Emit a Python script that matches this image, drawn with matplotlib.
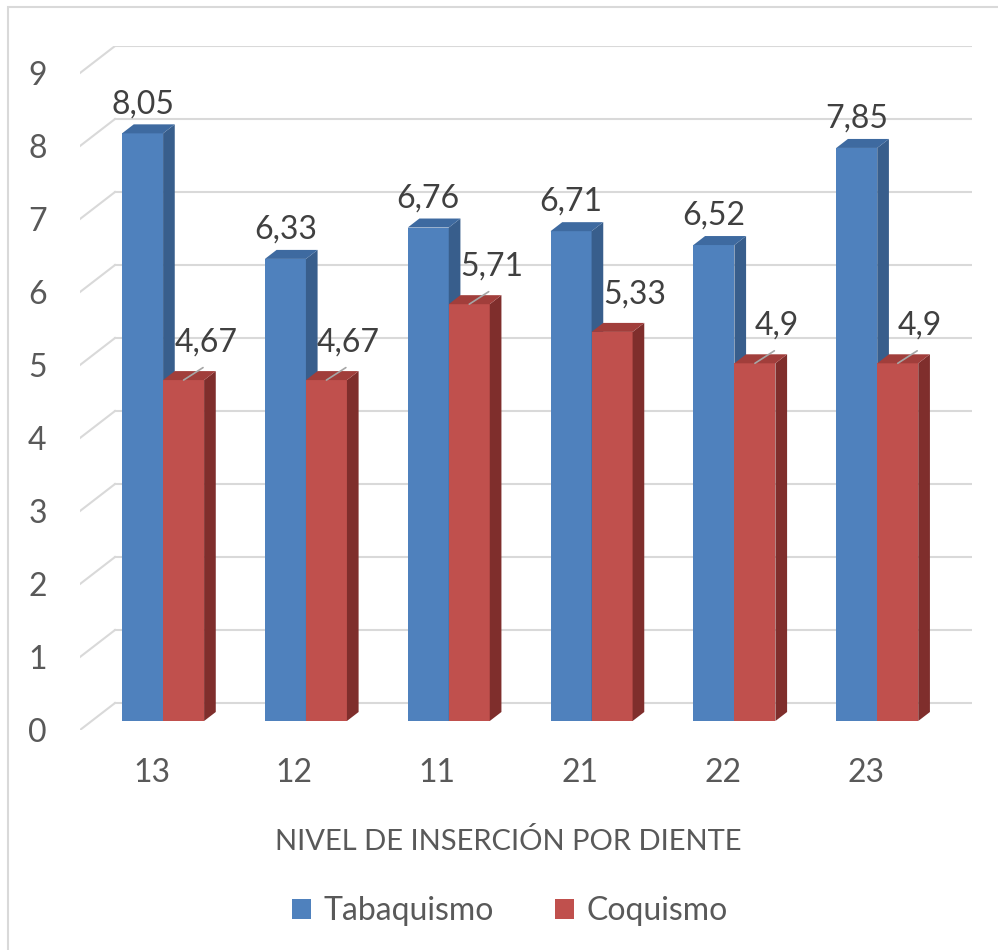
import matplotlib.pyplot as plt
from matplotlib.patches import Polygon, Rectangle, Patch

plt.rcParams['font.family'] = ['Lato', 'DejaVu Sans']

dientes = ['13', '12', '11', '21', '22', '23']
tabaquismo = [8.05, 6.33, 6.76, 6.71, 6.52, 7.85]
coquismo = [4.67, 4.67, 5.71, 5.33, 4.9, 4.9]
labels_tab = ['8,05', '6,33', '6,76', '6,71', '6,52', '7,85']
labels_coq = ['4,67', '4,67', '5,71', '5,33', '4,9', '4,9']
leader_coq = [True, True, True, False, True, True]
y_ticks = list(range(10))

W, H = 998, 950
# depth of the 3d box in data units
DX = 35 / 142.8
DY = 27 / 73.0
BAR_W = 41 / 142.8

BLUE = ('#4F81BD', '#385E8C', '#3E6AA0')
RED = ('#C0504D', '#7F2E2C', '#A13E3B')
GRID = '#D9D9D9'
TXT = '#595959'


def draw_bar(ax, x0, v, colors):
    """front face, right side and top of a 3d column"""
    face, side, top = colors
    dx, dy = DX / 3, DY / 3
    x1 = x0 + BAR_W
    y0, y1 = dy, v + dy
    ax.add_patch(Polygon([(x0, y0), (x1, y0), (x1, y1), (x0, y1)],
                         closed=True, facecolor=face, edgecolor='none'))
    ax.add_patch(Polygon([(x1, y0), (x1 + dx, y0 + dy), (x1 + dx, y1 + dy), (x1, y1)],
                         closed=True, facecolor=side, edgecolor='none'))
    ax.add_patch(Polygon([(x0, y1), (x1, y1), (x1 + dx, y1 + dy), (x0 + dx, y1 + dy)],
                         closed=True, facecolor=top, edgecolor='none'))


fig = plt.figure(figsize=(W / 100, H / 100), dpi=100)
ax = fig.add_axes([80 / W, (H - 730) / H, (972 - 80) / W, (730 - 46) / H])
ax.set_xlim(-0.5, 5.5 + DX)
ax.set_ylim(0, 9 + DY)
for s in ax.spines.values():
    s.set_visible(False)

# back wall gridlines and the floor diagonals
for v in y_ticks:
    ax.plot([-0.5 + DX, 5.5 + DX], [v + DY, v + DY], color=GRID, lw=1.5, zorder=0)
    ax.plot([-0.5, -0.5 + DX], [v, v + DY], color=GRID, lw=1.5, zorder=0)

for i in range(len(dientes)):
    xb = i - BAR_W + DX / 3
    xr = i + DX / 3
    draw_bar(ax, xb, tabaquismo[i], BLUE)
    draw_bar(ax, xr, coquismo[i], RED)

    ax.annotate(labels_tab[i], (xb + BAR_W / 2, tabaquismo[i] + DY / 3),
                xytext=(0, 21), textcoords='offset points', ha='center', va='center',
                fontsize=23, color='#404040')
    ax.annotate(labels_coq[i], (xr + BAR_W / 2, coquismo[i] + DY / 3),
                xytext=(16, 27), textcoords='offset points', ha='center', va='center',
                fontsize=23, color='#404040')
    if leader_coq[i]:
        ax.annotate('', (xr + BAR_W / 2, coquismo[i] + DY / 3),
                    xytext=(14, 9), textcoords='offset points',
                    arrowprops=dict(arrowstyle='-', color='#A6A6A6', lw=1.2,
                                    shrinkA=0, shrinkB=0))

ax.set_yticks(y_ticks)
ax.set_yticklabels([str(v) for v in y_ticks])
ax.set_xticks(range(len(dientes)))
ax.set_xticklabels(dientes)
ax.tick_params(axis='y', length=0, pad=24, labelsize=23, labelcolor=TXT)
ax.tick_params(axis='x', length=0, pad=20, labelsize=23, labelcolor=TXT)
ax.set_xlabel('NIVEL DE INSERCIÓN POR DIENTE', fontsize=21, color=TXT)
ax.xaxis.set_label_coords((508 - 80) / (972 - 80), -98 / (730 - 46))

handles = [Patch(facecolor=BLUE[0], label='Tabaquismo'),
           Patch(facecolor=RED[0], label='Coquismo')]
fig.legend(handles=handles, loc='center', bbox_to_anchor=(510 / W, (H - 911) / H),
           ncol=2, frameon=False, fontsize=23, labelcolor=TXT,
           handlelength=0.6, handleheight=0.6, handletextpad=0.4, columnspacing=1.9)

fig.patches.append(Rectangle((8 / W, -0.01), 1.0, (H - 7) / H + 0.01,
                             transform=fig.transFigure, fill=False,
                             edgecolor=GRID, lw=1.5))

plt.savefig('out.png', dpi=100)
